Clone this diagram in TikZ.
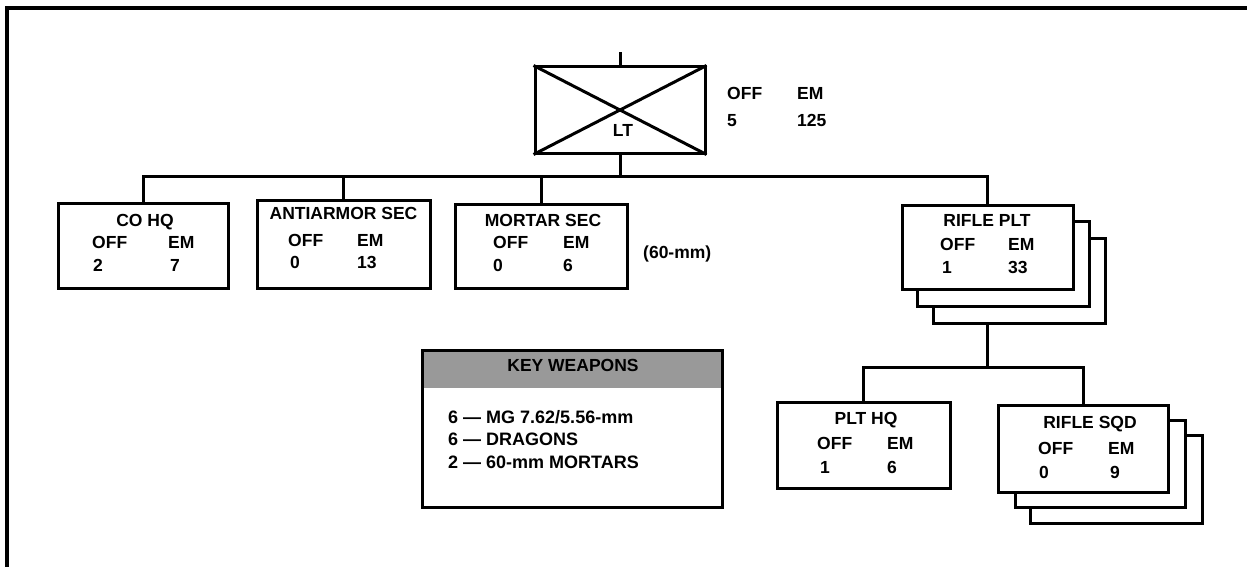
\documentclass[tikz,border=0pt]{standalone}
\usepackage{fontspec}
\setmainfont{Liberation Sans}
\begin{document}
\begin{tikzpicture}[x=1pt,y=-1pt,
  box/.style={draw, line width=3pt, fill=white, inner sep=0pt},
  conn/.style={line width=3pt},
  lbl/.style={anchor=base west, inner sep=0pt, font=\fontsize{17.5}{18}\selectfont\bfseries},
  ttl/.style={anchor=base, inner sep=0pt, font=\fontsize{17.5}{18}\selectfont\bfseries},
  kwt/.style={anchor=base west, inner sep=0pt, font=\fontsize{18}{18}\selectfont\bfseries}]
\useasboundingbox (0,0) rectangle (1247,567);
% frame
\draw[line width=3.5pt] (7,567) -- (7,8) -- (1247,8);
% top unit
\node[box, minimum width=170pt, minimum height=86pt] (top) at (620,110) {};
\draw[conn] (top.north west) -- (top.south east);
\draw[conn] (top.south west) -- (top.north east);
\node[ttl] (lt) at (623,136.5) {LT};
\coordinate (tick) at (620,52);
\draw[conn] (top.north) -- (tick);
\node[lbl] (toff) at (727,99.5) {OFF};
\node[lbl] (tem) at (797,99.5) {EM};
\node[lbl] (tn1) at (727,126.5) {5};
\node[lbl] (tn2) at (797,126.5) {125};
\coordinate (bus) at (620,176);
% subordinate boxes
\node[box, minimum width=170pt, minimum height=85pt] (cohq) at (143,245.5) {};
\node[box, minimum width=173pt, minimum height=88pt] (aa) at (343.5,244) {};
\node[box, minimum width=172pt, minimum height=84pt] (mort) at (541,246) {};
\node[box, minimum width=172pt, minimum height=85pt] (rpltC) at (1019,280.5) {};
\node[box, minimum width=172pt, minimum height=85pt] (rpltB) at (1003.5,264) {};
\node[box, minimum width=171pt, minimum height=84pt] (rpltA) at (987.5,247) {};
% bus connectors
\draw[conn] (top.south) -- (bus);
\draw[conn] (cohq.north) -- (cohq.north |- bus) -- (rpltA.north |- bus) -- (rpltA.north);
\draw[conn] (aa.north) -- (aa.north |- bus);
\draw[conn] (mort.north) -- (mort.north |- bus);
% CO HQ text
\node[ttl] (t1) at (145,226.5) {CO HQ};
\node[lbl] (t1a) at (92,248.5) {OFF};
\node[lbl] (t1b) at (168,248.5) {EM};
\node[lbl] (t1c) at (93,271.5) {2};
\node[lbl] (t1d) at (170,271.5) {7};
% Antiarmor text
\node[ttl] (t2) at (343.5,219.5) {ANTIARMOR SEC};
\node[lbl] (t2a) at (288,246.5) {OFF};
\node[lbl] (t2b) at (357,246.5) {EM};
\node[lbl] (t2c) at (290,268.5) {0};
\node[lbl] (t2d) at (357,268.5) {13};
% Mortar text
\node[ttl] (t3) at (543,226.5) {MORTAR SEC};
\node[lbl] (t3a) at (493,248.5) {OFF};
\node[lbl] (t3b) at (563,248.5) {EM};
\node[lbl] (t3c) at (493,271.5) {0};
\node[lbl] (t3d) at (563,271.5) {6};
\node[lbl] (t3e) at (643,258.5) {(60-mm)};
% Rifle PLT text
\node[ttl] (t4) at (987,226.5) {RIFLE PLT};
\node[lbl] (t4a) at (940,250) {OFF};
\node[lbl] (t4b) at (1008,250) {EM};
\node[lbl] (t4c) at (942,273.5) {1};
\node[lbl] (t4d) at (1008,273.5) {33};
% lower level
\coordinate (lbus) at (990,367);
\node[box, minimum width=173pt, minimum height=86pt] (plthq) at (863.5,445) {};
\node[box, minimum width=172pt, minimum height=88pt] (sqdC) at (1116,479) {};
\node[box, minimum width=170pt, minimum height=87pt] (sqdB) at (1100,463.5) {};
\node[box, minimum width=170pt, minimum height=87pt] (sqdA) at (1083,448.5) {};
\draw[conn] (rpltA.south |- rpltC.south) -- (rpltA.south |- lbus);
\draw[conn] (plthq.north) -- (plthq.north |- lbus) -- (sqdA.north |- lbus) -- (sqdA.north);
\node[ttl] (t5) at (866,424.5) {PLT HQ};
\node[lbl] (t5a) at (817,449.5) {OFF};
\node[lbl] (t5b) at (887,449.5) {EM};
\node[lbl] (t5c) at (820,473.5) {1};
\node[lbl] (t5d) at (887,473.5) {6};
\node[ttl] (t6) at (1090,428.5) {RIFLE SQD};
\node[lbl] (t6a) at (1038,454.5) {OFF};
\node[lbl] (t6b) at (1108,454.5) {EM};
\node[lbl] (t6c) at (1039,478.5) {0};
\node[lbl] (t6d) at (1110,478.5) {9};
% key weapons
\fill[black!40] (422,350) rectangle (722,388);
\node[draw, line width=3pt, inner sep=0pt, minimum width=300pt, minimum height=157pt] (kw) at (572,428.5) {};
\node[ttl] (kwh) at (573,371.5) {KEY WEAPONS};
\node[kwt] (kw1) at (448,423.5) {6 — MG 7.62/5.56-mm};
\node[kwt] (kw2) at (448,445.5) {6 — DRAGONS};
\node[kwt] (kw3) at (448,468.5) {2 — 60-mm MORTARS};
\end{tikzpicture}
\end{document}
